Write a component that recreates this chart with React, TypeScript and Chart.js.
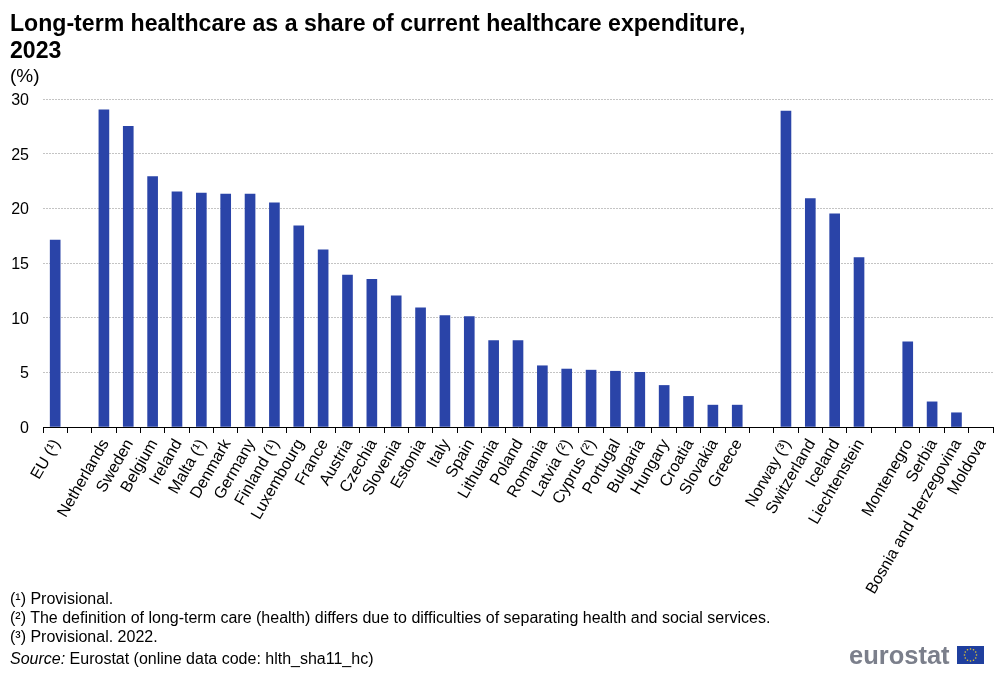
import React, { useEffect, useRef } from 'react';
import { Chart, registerables } from 'chart.js';

Chart.register(...registerables);

const FONT = '"Liberation Sans", Arial, sans-serif';

const categories = [
    'EU (¹)', '', 'Netherlands', 'Sweden', 'Belgium', 'Ireland', 'Malta (¹)', 'Denmark', 'Germany', 'Finland (¹)',
    'Luxembourg', 'France', 'Austria', 'Czechia', 'Slovenia', 'Estonia', 'Italy', 'Spain', 'Lithuania', 'Poland',
    'Romania', 'Latvia (²)', 'Cyprus (²)', 'Portugal', 'Bulgaria', 'Hungary', 'Croatia', 'Slovakia', 'Greece', ' ',
    'Norway (³)', 'Switzerland', 'Iceland', 'Liechtenstein', '  ', 'Montenegro', 'Serbia', 'Bosnia and Herzegovina', 'Moldova',
];

const shares = [
    17.1, null, 29.0, 27.5, 22.9, 21.5, 21.4, 21.3, 21.3, 20.5,
    18.4, 16.2, 13.9, 13.5, 12.0, 10.9, 10.2, 10.1, 7.9, 7.9,
    5.6, 5.3, 5.2, 5.1, 5.0, 3.8, 2.8, 2.0, 2.0, null,
    28.9, 20.9, 19.5, 15.5, null, 7.8, 2.3, 1.3, null,
];

const footnotes = [
    '(¹) Provisional.',
    '(²) The definition of long-term care (health) differs due to difficulties of separating health and social services.',
    '(³) Provisional. 2022.',
];

const starAngles = [0, 30, 60, 90, 120, 150, 180, 210, 240, 270, 300, 330];

const App: React.FC = () => {
    const chartRef = useRef<HTMLCanvasElement>(null);

    useEffect(() => {
        if (!chartRef.current) return;
        const chart = new Chart(chartRef.current, {
            type: 'bar',
            data: {
                labels: categories,
                datasets: [{ label: 'Share', data: shares, backgroundColor: '#2a44a8', barThickness: 10 }],
            },
            options: {
                animation: false,
                responsive: false,
                layout: { padding: { top: 99, right: 7, bottom: 0, left: 0 } },
                plugins: { legend: { display: false }, tooltip: { enabled: false } },
                scales: {
                    x: {
                        border: { color: '#000000', width: 1 },
                        grid: { drawOnChartArea: false, drawTicks: true, tickLength: 6, tickColor: '#000000' },
                        ticks: {
                            autoSkip: false,
                            minRotation: 60,
                            maxRotation: 60,
                            padding: 3,
                            labelOffset: 1.5,
                            color: '#000000',
                            font: { family: FONT, size: 16.1 },
                        },
                        afterFit: (scale: any) => {
                            scale.height = 247;
                            // rotated labels should not eat into the plot width
                            scale.paddingRight = 0;
                            scale.paddingLeft = 0;
                        },
                    },
                    y: {
                        min: 0,
                        max: 30,
                        border: { display: false, dash: [2, 1] },
                        grid: { color: '#c4c4c4', lineWidth: 1, drawTicks: false },
                        ticks: {
                            stepSize: 5,
                            padding: 14,
                            labelOffset: 1.5,
                            color: '#000000',
                            font: { family: FONT, size: 16 },
                        },
                        afterFit: (scale: any) => {
                            scale.width = 43;
                        },
                    },
                },
            },
        });

        return () => {
            chart.destroy();
        };
    }, []);

    const text: React.CSSProperties = { position: 'absolute', left: 10, whiteSpace: 'nowrap', fontFamily: FONT, color: '#000' };

    return (
        <div style={{ position: 'absolute', left: 0, top: 0, width: 1000, height: 674, background: '#fff', overflow: 'hidden' }}>
            <canvas ref={chartRef} width={1000} height={674} style={{ position: 'absolute', left: 0, top: 0 }} />
            <div style={{ ...text, top: 10, fontSize: 23.1, lineHeight: '27px', fontWeight: 'bold' }}>
                Long-term healthcare as a share of current healthcare expenditure,<br />2023
            </div>
            <div style={{ ...text, top: 65, fontSize: 19, lineHeight: '21px' }}>(%)</div>
            {footnotes.map((note, i) => (
                <div key={i} style={{ ...text, top: 589 + i * 19, fontSize: 16, lineHeight: '19px' }}>{note}</div>
            ))}
            <div style={{ ...text, top: 649, fontSize: 16, lineHeight: '19px' }}>
                <i>Source:</i> Eurostat (online data code: hlth_sha11_hc)
            </div>
            <div style={{ ...text, left: 849, top: 641, fontSize: 25.5, lineHeight: '28px', fontWeight: 'bold', color: '#7b7f8b' }}>eurostat</div>
            <svg width={27} height={18} style={{ position: 'absolute', left: 957, top: 646 }}>
                <rect width={27} height={18} fill="#1f3f9e" />
                {starAngles.map((a) => (
                    <circle
                        key={a}
                        cx={13.5 + 6 * Math.cos((a * Math.PI) / 180)}
                        cy={9 + 6 * Math.sin((a * Math.PI) / 180)}
                        r={0.8}
                        fill="#e6c62e"
                    />
                ))}
            </svg>
        </div>
    );
};

export default App;
